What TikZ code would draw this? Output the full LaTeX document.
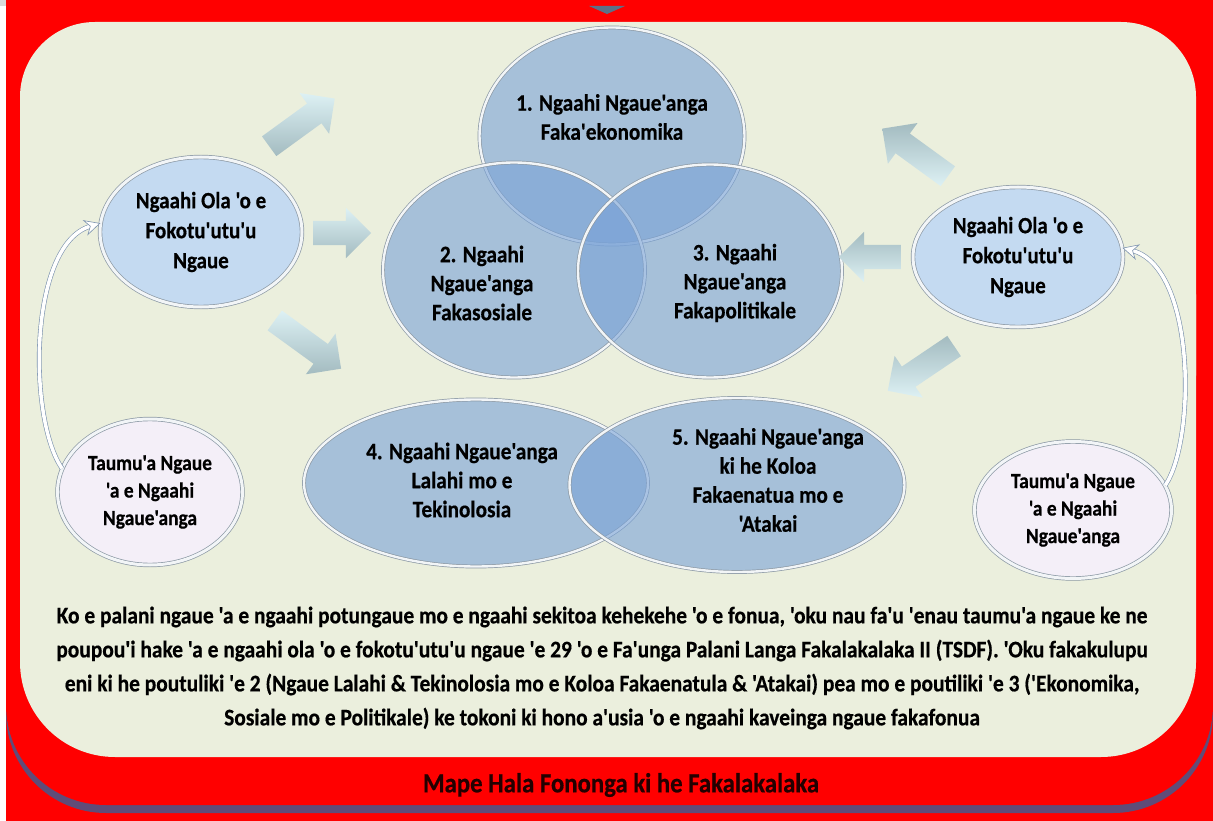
\documentclass[tikz,border=0pt]{standalone}
\usepackage{fontspec}
\setmainfont{Carlito}[Ligatures=TeXOff, FakeStretch=0.9,
  BoldFeatures={FakeBold=0.5}]
\usetikzlibrary{shapes.geometric,shapes.arrows,arrows.meta}
\definecolor{framered}{HTML}{FF0000}
\definecolor{shadowpurple}{HTML}{604C78}
\definecolor{panelcream}{HTML}{EBEFDD}
\definecolor{topgray}{HTML}{D9D9D9}
\definecolor{notchslate}{HTML}{5D7188}
\definecolor{ovalblue}{HTML}{79A2D7}
\definecolor{rimgray}{HTML}{8C99A5}
\definecolor{rimwhite}{HTML}{F2F5F7}
\definecolor{olablue}{HTML}{C4DAF1}
\definecolor{taumulilac}{HTML}{F4EFF8}
\definecolor{arrowlight}{HTML}{DDF1F4}
\definecolor{arrowdark}{HTML}{A3BBC0}
\definecolor{linkblue}{HTML}{7B92AE}
\definecolor{titleink}{HTML}{230000}
\tikzset{
  bigoval/.style={ellipse, inner sep=0pt, fill=ovalblue, fill opacity=0.6,
    draw=rimgray, line width=0.7pt, double=rimwhite, double distance=2.4pt},
  sideoval/.style={ellipse, inner sep=0pt, draw=rimgray, line width=0.7pt,
    double=rimwhite, double distance=3pt, align=center},
  olafont/.style={font=\bfseries\fontsize{23.3}{30}\selectfont},
  taumufont/.style={font=\bfseries\fontsize{21.6}{27.5}\selectfont},
  ovaltext/.style={align=center, inner sep=0pt,
    font=\bfseries\fontsize{23.6}{29}\selectfont},
  paratext/.style={align=center, inner sep=0pt,
    font=\bfseries\fontsize{23.8}{34}\selectfont},
  blockarr/.style={single arrow, minimum height=#1, inner xsep=0pt,
    inner ysep=12pt, single arrow head extend=13pt, draw=none,
    top color=arrowlight, bottom color=arrowdark},
  linkarr/.style={draw=linkblue, line width=0.6pt, double=white,
    double distance=3.5pt, -{Stealth[length=16pt,width=16pt,fill=white]}}
}
\begin{document}
\begin{tikzpicture}[x=1pt,y=-1pt]
  \useasboundingbox (0,0) rectangle (1213,821);
  % frame
  \fill[white] (0,0) rectangle (1213,821);
  \fill[topgray] (0,0) rectangle (1213,6);
  \fill[framered] (6,6) rectangle (1213,821);
  \fill[shadowpurple, rounded corners=100pt] (6,-200) rectangle (1213,813);
  \fill[framered, rounded corners=100pt] (6,-200) rectangle (1213,805);
  \fill[notchslate] (589,6) -- (625,6) -- (607,14) -- cycle;
  \fill[panelcream, rounded corners=75pt] (20,450) |- (608,22) -| (1196,450) -- cycle;
  \fill[panelcream, rounded corners=95pt] (20,200) |- (608,757) -| (1196,200) -- cycle;

  % five pillars
  \node[bigoval, minimum width=265pt, minimum height=217pt] (econ) at (612,136) {};
  \node[bigoval, minimum width=262pt, minimum height=215pt] (social) at (514,270) {};
  \node[bigoval, minimum width=264pt, minimum height=213pt] (polit) at (710,271) {};
  \node[bigoval, minimum width=344pt, minimum height=167pt] (infra) at (476,483) {};
  \node[bigoval, minimum width=335pt, minimum height=174pt] (enviro) at (737,485) {};

  \node[ovaltext] (econtext) at (612,117) {1. Ngaahi Ngaue'anga\\Faka'ekonomika};
  \node[ovaltext] (socialtext) at (482,283) {2. Ngaahi\\Ngaue'anga\\Fakasosiale};
  \node[ovaltext] (polittext) at (735,283) {3. Ngaahi\\Ngaue'anga\\Fakapolitikale};
  \node[ovaltext] (infratext) at (462,480) {4. Ngaahi Ngaue'anga\\Lalahi mo e\\Tekinolosia};
  \node[ovaltext] (envirotext) at (768,480) {5. Ngaahi Ngaue'anga\\ki he Koloa\\Fakaenatua mo e\\'Atakai};

  % side ovals
  \node[sideoval, olafont, fill=olablue, minimum width=202pt, minimum height=150pt]
    (olaL) at (201,232) {Ngaahi Ola 'o e\\Fokotu'utu'u\\Ngaue};
  \node[sideoval, taumufont, fill=taumulilac, minimum width=185pt, minimum height=146pt]
    (taumuL) at (150,492) {Taumu'a Ngaue\\'a e Ngaahi\\Ngaue'anga};
  \node[sideoval, olafont, fill=olablue, minimum width=210pt, minimum height=140pt]
    (olaR) at (1018,257) {Ngaahi Ola 'o e\\Fokotu'utu'u\\Ngaue};
  \node[sideoval, taumufont, fill=taumulilac, minimum width=197pt, minimum height=137pt]
    (taumuR) at (1073,510) {Taumu'a Ngaue\\'a e Ngaahi\\Ngaue'anga};

  % block arrows
  \node[blockarr=81, rotate=36] (upL) at (297,126) {};
  \node[blockarr=58] (midL) at (336,233) {};
  \node[blockarr=82, rotate=-36] (lowL) at (303,341) {};
  \node[blockarr=81, rotate=144, shading angle=180] (upR) at (920,156) {};
  \node[blockarr=62, rotate=180, shading angle=180] (midR) at (876,257) {};
  \node[blockarr=80, rotate=-146, shading angle=180] (lowR) at (926,365) {};

  % curved links
  \draw[linkarr] (taumuL.165) .. controls (28,420) and (28,245) .. (olaL.175);
  \draw[linkarr] (taumuR.15) .. controls (1196,440) and (1196,268) .. (olaR.5);

  % texts
  \node[paratext] (summary) at (602,668) {Ko e palani ngaue 'a e ngaahi potungaue mo e ngaahi sekitoa kehekehe 'o e fonua, 'oku nau fa'u 'enau taumu'a ngaue ke ne\\
    poupou'i hake 'a e ngaahi ola 'o e fokotu'utu'u ngaue 'e 29 'o e Fa'unga Palani Langa Fakalakalaka II (TSDF). 'Oku fakakulupu\\
    eni ki he poutuliki 'e 2 (Ngaue Lalahi \& Tekinolosia mo e Koloa Fakaenatula \& 'Atakai) pea mo e poutiliki 'e 3 ('Ekonomika,\\
    Sosiale mo e Politikale) ke tokoni ki hono a'usia 'o e ngaahi kaveinga ngaue fakafonua};
  \node[text=titleink, font=\bfseries\fontsize{27.5}{30}\selectfont] (title) at (621,785)
    {Mape Hala Fononga ki he Fakalakalaka};
\end{tikzpicture}
\end{document}
